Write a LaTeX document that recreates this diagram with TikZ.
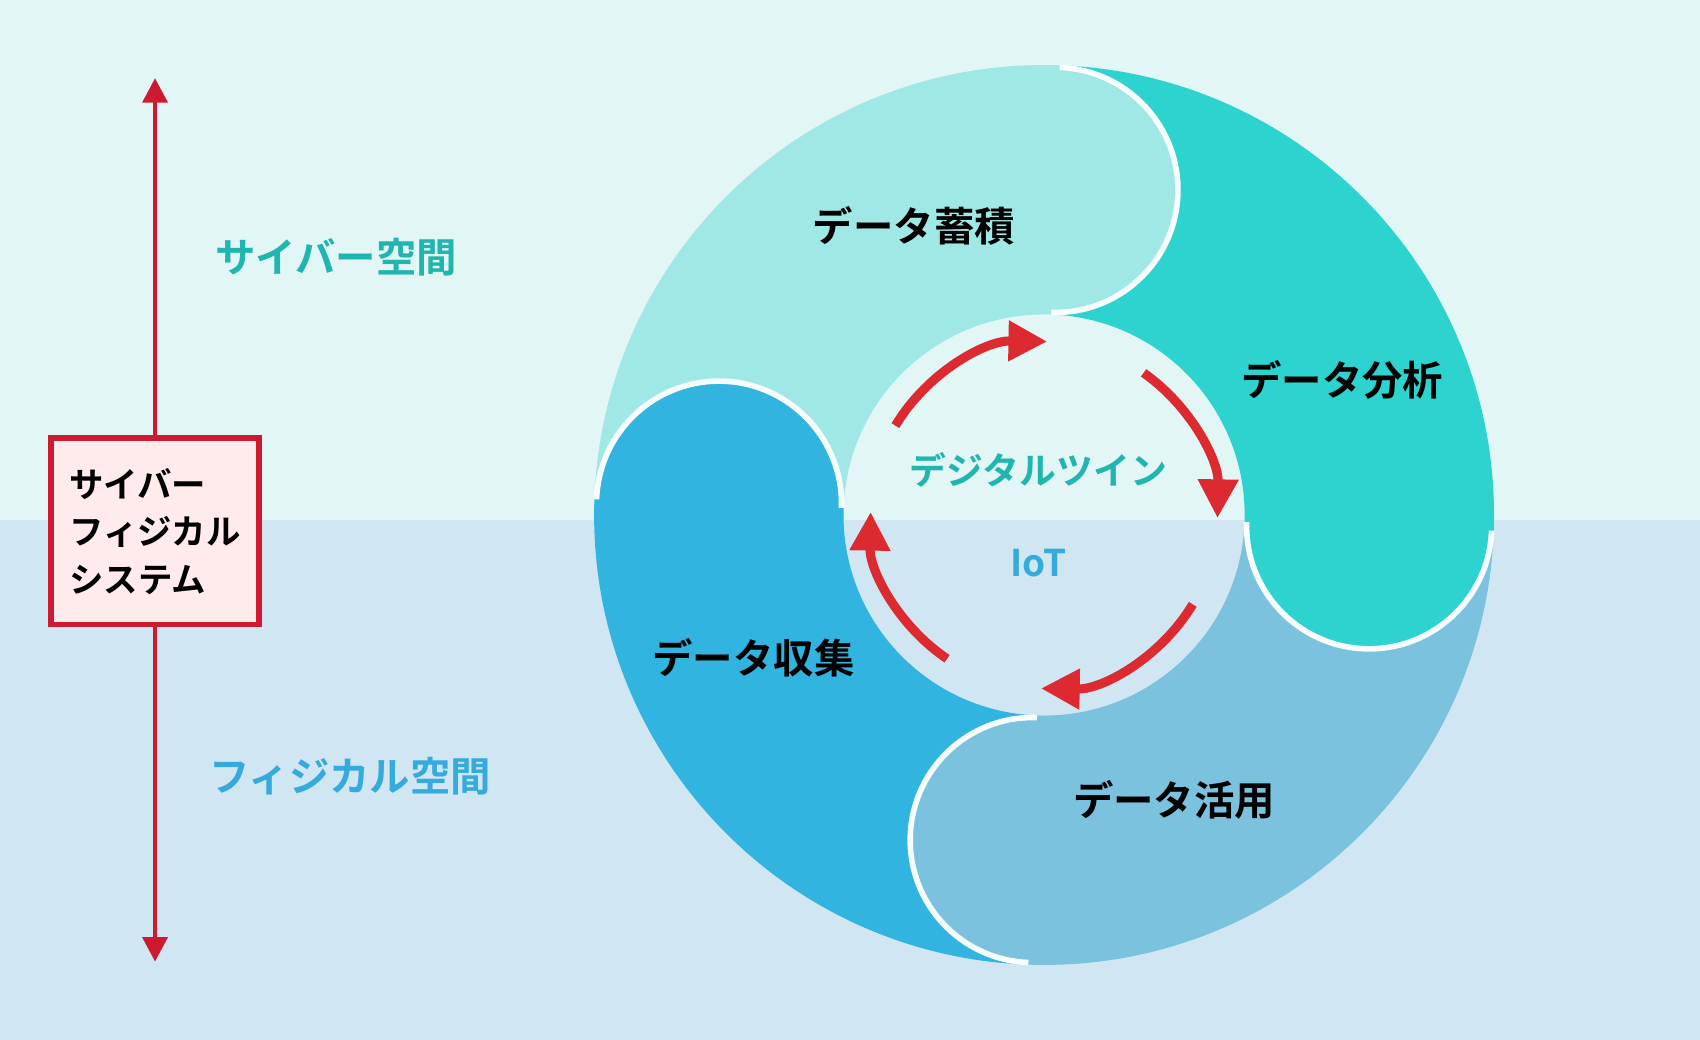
\documentclass[tikz,border=0pt]{standalone}
\usepackage{fontspec}
\setmainfont{Noto Sans CJK JP}[BoldFont={Noto Sans CJK JP Bold}]
\usetikzlibrary{arrows.meta, positioning}

\definecolor{skytop}{HTML}{E3F6F6}
\definecolor{skybot}{HTML}{D0E7F3}
\definecolor{segstore}{HTML}{A0E8E6}
\definecolor{segana}{HTML}{2CD3CF}
\definecolor{seguse}{HTML}{7AC2DE}
\definecolor{segcol}{HTML}{32B4E0}
\definecolor{cpsred}{HTML}{CE1A30}
\definecolor{loopred}{HTML}{DD2A30}
\definecolor{cybertxt}{HTML}{20B5AE}
\definecolor{physitxt}{HTML}{35AADD}

% one ring segment, cap at angle #1
\newcommand{\ringseg}[2]{%
  \fill[#2] (#1+90:415) arc[start angle=#1+90, end angle=#1, radius=415]
    arc[start angle=#1, end angle=#1-180, radius=115]
    arc[start angle=#1, end angle=#1+90, radius=185]
    arc[start angle=#1-90, end angle=#1+90, radius=115] -- cycle;}

\begin{document}
\begin{tikzpicture}[x=0.010842cm, y=0.010842cm,
    seglabel/.style={font=\bfseries\fontsize{11.5}{14}\selectfont, text=black},
    looparrow/.style={loopred, line width=2.6pt, -{Triangle[length=11pt, width=11pt]}},
    cpsbox/.style={draw=cpsred, line width=1.6pt, fill=red!8, minimum width=2.08cm, minimum height=1.87cm,
      align=left, font=\bfseries\fontsize{9.8}{13.5}\selectfont},
    spacelabel/.style={font=\bfseries\fontsize{11.5}{14}\selectfont}
  ]
  \useasboundingbox (0,0) rectangle (1568,959);
  % background
  \fill[skybot] (0,0) rectangle (1568,479);
  \fill[skytop] (0,479) rectangle (1568,959);

  % ring
  \begin{scope}[shift={(963,484)}]
    \ringseg{88}{segstore}
    \ringseg{-2}{segana}
    \ringseg{-92}{seguse}
    \ringseg{178}{segcol}
    \foreach \a in {88,-2,-92,178} {
      \draw[white!70!skytop, line width=1.6pt] (\a:413) arc[start angle=\a, end angle=\a-180, radius=113];
    }
    % loop arrows
    \draw[looparrow] (149:160) arc[start angle=149, end angle=89, radius=160];
    \draw[looparrow] (55:160) arc[start angle=55, end angle=-1, radius=160];
    \draw[looparrow] (-31:160) arc[start angle=-31, end angle=-91, radius=160];
    \draw[looparrow] (-124:160) arc[start angle=-124, end angle=-181, radius=160];
  \end{scope}

  % labels
  \node[seglabel] (store) at (843,751) {データ蓄積};
  \node[seglabel] (ana) at (1238,609) {データ分析};
  \node[seglabel] (use) at (1083,221) {データ活用};
  \node[seglabel] (col) at (695,352) {データ収集};
  \node[text=cybertxt, font=\bfseries\fontsize{10.5}{13}\selectfont] (twin) at (958,526) {デジタルツイン};
  \node[text=physitxt, font=\bfseries\fontsize{10.5}{13}\selectfont] (iot) at (958,440) {IoT};

  % cyber-physical axis
  \node[cpsbox] (cps) at (143,469) {サイバー\\フィジカル\\システム};
  \coordinate (axtop) at (143,887);
  \coordinate (axbot) at (143,72);
  \draw[cpsred, line width=1.4pt, -{Triangle[length=7pt, width=7pt]}] (cps.north) -- (axtop);
  \draw[cpsred, line width=1.4pt, -{Triangle[length=7pt, width=7pt]}] (cps.south) -- (axbot);
  \node[spacelabel, text=cybertxt] (cyber) at (310,722) {サイバー空間};
  \node[spacelabel, text=physitxt] (physi) at (323,243) {フィジカル空間};
\end{tikzpicture}
\end{document}
